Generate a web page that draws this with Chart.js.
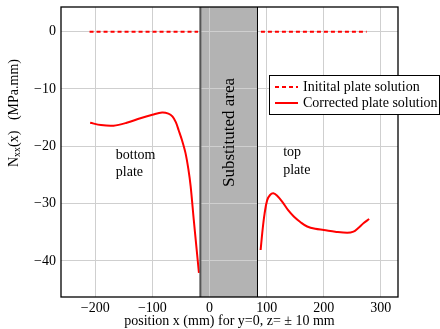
<!DOCTYPE html>
<html lang="en">
<head>
    <meta charset="UTF-8">
    <title>Nxx chart</title>
    <style>
        body { margin: 0; background: #fff; }
    </style>
</head>
<body>
    <div style="width: 440px; height: 329px;">
        <canvas id="myChart" width="440" height="329"></canvas>
    </div>

    <script src="https://cdn.jsdelivr.net/npm/chart.js"></script>
    <script>
        // data
        const xTicks = [-200, -100, 0, 100, 200, 300];
        const yTicks = [-40, -30, -20, -10, 0];

        const initialX = [-210, -20, 35, 90, 275];
        const initialY = [0, 0, null, 0, 0];

        const bottomX = [-209, -190, -168, -145, -121, -100, -83, -72, -65, -59, -54, -48, -42, -37, -33, -27.5, -23, -18.5];
        const bottomY = [-15.9, -16.3, -16.4, -15.9, -15.1, -14.5, -14.1, -14.3, -14.8, -15.8, -17.2, -19.0, -21.2, -24.0, -27.0, -32.9, -37.5, -42.1];

        const topX = [89.5, 93, 96.5, 101, 106, 111.7, 118, 127.5, 138, 148, 160, 171, 185, 200, 220, 241, 252, 260, 270, 279.5];
        const topY = [-38.1, -34.5, -31.7, -29.4, -28.5, -28.2, -28.6, -29.7, -31.2, -32.3, -33.3, -34.0, -34.4, -34.6, -34.9, -35.1, -34.9, -34.3, -33.4, -32.7];

        const bandFrom = -16;
        const bandTo = 84;

        const serif = "'Liberation Serif', 'DejaVu Serif', serif";

        function f_points(xs, ys) {
            let v_out = [];
            for (let i = 0; i < xs.length; i++) {
                v_out.push({x: xs[i], y: ys[i]});
            }
            return v_out;
        }

        let v_corrected = f_points(bottomX, bottomY);
        v_corrected.push({x: 35, y: null});
        v_corrected = v_corrected.concat(f_points(topX, topY));

        function f_minus(v) {
            return v < 0 ? '\u2212' + Math.abs(v) : '' + v;
        }

        const decoPlugin = {
            id: 'deco',
            beforeDraw(chart) {
                const c = chart.ctx;
                const a = chart.chartArea;
                const xs = chart.scales.x;
                c.save();
                c.fillStyle = '#fff';
                c.fillRect(0, 0, chart.width, chart.height);
                let x1 = xs.getPixelForValue(bandFrom);
                let x2 = xs.getPixelForValue(bandTo);
                c.fillStyle = '#b3b3b3';
                c.fillRect(x1, a.top, x2 - x1, a.bottom - a.top);
                c.restore();
            },
            afterDatasetsDraw(chart) {
                const c = chart.ctx;
                const a = chart.chartArea;
                const xs = chart.scales.x;
                const ys = chart.scales.y;
                c.save();

                // band edges
                let x1 = xs.getPixelForValue(bandFrom);
                let x2 = xs.getPixelForValue(bandTo);
                c.strokeStyle = '#555';
                c.lineWidth = 2;
                c.beginPath();
                c.moveTo(x1, a.top); c.lineTo(x1, a.bottom);
                c.stroke();
                c.strokeStyle = '#000';
                c.lineWidth = 1;
                c.beginPath();
                c.moveTo(x2, a.top); c.lineTo(x2, a.bottom);
                c.stroke();

                // frame
                c.lineWidth = 1.3;
                c.strokeRect(a.left, a.top, a.right - a.left, a.bottom - a.top);

                // labels inside plot
                c.fillStyle = '#000';
                c.font = '14px ' + serif;
                c.textAlign = 'left';
                c.textBaseline = 'middle';
                c.fillText('bottom', xs.getPixelForValue(-164), ys.getPixelForValue(-21.6));
                c.fillText('plate', xs.getPixelForValue(-164), ys.getPixelForValue(-24.6));
                c.fillText('top', xs.getPixelForValue(129), ys.getPixelForValue(-21.1));
                c.fillText('plate', xs.getPixelForValue(129), ys.getPixelForValue(-24.2));

                c.save();
                c.translate((x1 + x2) / 2 + 1, ys.getPixelForValue(-17.6));
                c.rotate(-Math.PI / 2);
                c.textAlign = 'center';
                c.font = '17px ' + serif;
                c.fillText('Substituted area', 0, 0);
                c.restore();

                // legend
                let lx = 269, ly = 75, lw = 171, lh = 40;
                c.fillStyle = '#fff';
                c.fillRect(lx, ly, lw, lh);
                c.strokeStyle = '#000';
                c.lineWidth = 1;
                c.strokeRect(lx + 0.5, ly + 0.5, lw - 1, lh - 1);
                c.strokeStyle = '#ff0000';
                c.lineWidth = 2;
                c.setLineDash([4, 3]);
                c.beginPath();
                c.moveTo(lx + 6, ly + 12); c.lineTo(lx + 29, ly + 12);
                c.stroke();
                c.setLineDash([]);
                c.beginPath();
                c.moveTo(lx + 6, ly + 28); c.lineTo(lx + 29, ly + 28);
                c.stroke();
                c.fillStyle = '#000';
                c.font = '14px ' + serif;
                c.fillText('Initital plate solution', lx + 34, ly + 12);
                c.fillText('Corrected plate solution', lx + 34, ly + 28);

                // x title
                c.textAlign = 'center';
                c.fillText('position x (mm) for y=0, z= \u00b1 10 mm', (a.left + a.right) / 2, 321);

                // y title with subscript
                c.save();
                c.translate(14, 113);
                c.rotate(-Math.PI / 2);
                c.textAlign = 'left';
                let parts = [['N', '14px', 0], ['xx', '10px', 3], ['(x)   (MPa.mm)', '14px', 0]];
                let total = 0;
                for (let p of parts) {
                    c.font = p[1] + ' ' + serif;
                    total += c.measureText(p[0]).width;
                }
                let px = -total / 2;
                for (let p of parts) {
                    c.font = p[1] + ' ' + serif;
                    c.fillText(p[0], px, p[2]);
                    px += c.measureText(p[0]).width;
                }
                c.restore();

                c.restore();
            }
        };

        const ctx = document.querySelector('#myChart');
        let v_chart = new Chart(ctx, {
            type: 'line',
            data: {
                datasets: [{
                    label: 'Initial plate solution',
                    data: f_points(initialX, initialY),
                    borderColor: '#ff0000',
                    borderWidth: 2,
                    borderDash: [4, 3],
                    pointRadius: 0,
                    spanGaps: false
                }, {
                    label: 'Corrected plate solution',
                    data: v_corrected,
                    borderColor: '#ff0000',
                    borderWidth: 2,
                    pointRadius: 0,
                    tension: 0.35,
                    spanGaps: false
                }]
            },
            options: {
                responsive: false,
                animation: false,
                devicePixelRatio: 1,
                layout: { padding: { left: 0, right: 42, top: 7, bottom: 0 } },
                plugins: {
                    legend: { display: false },
                    tooltip: { enabled: false }
                },
                scales: {
                    x: {
                        type: 'linear',
                        min: -260,
                        max: 330,
                        afterBuildTicks: (s) => { s.ticks = xTicks.map(v => ({value: v})); },
                        afterFit: (s) => { s.height = 32; s.paddingLeft = 0; s.paddingRight = 0; },
                        grid: { color: '#cfcfcf', drawTicks: false },
                        border: { display: false },
                        ticks: {
                            padding: 3,
                            color: '#000',
                            font: { family: serif, size: 14 },
                            maxRotation: 0,
                            callback: f_minus
                        }
                    },
                    y: {
                        type: 'linear',
                        min: -46.3,
                        max: 4.3,
                        afterBuildTicks: (s) => { s.ticks = yTicks.map(v => ({value: v})); },
                        afterFit: (s) => { s.width = 61; s.paddingTop = 0; s.paddingBottom = 0; },
                        grid: { color: '#cfcfcf', drawTicks: false },
                        border: { display: false },
                        ticks: {
                            padding: 5,
                            color: '#000',
                            font: { family: serif, size: 14 },
                            callback: f_minus
                        }
                    }
                }
            },
            plugins: [decoPlugin]
        });
    </script>
</body>
</html>
